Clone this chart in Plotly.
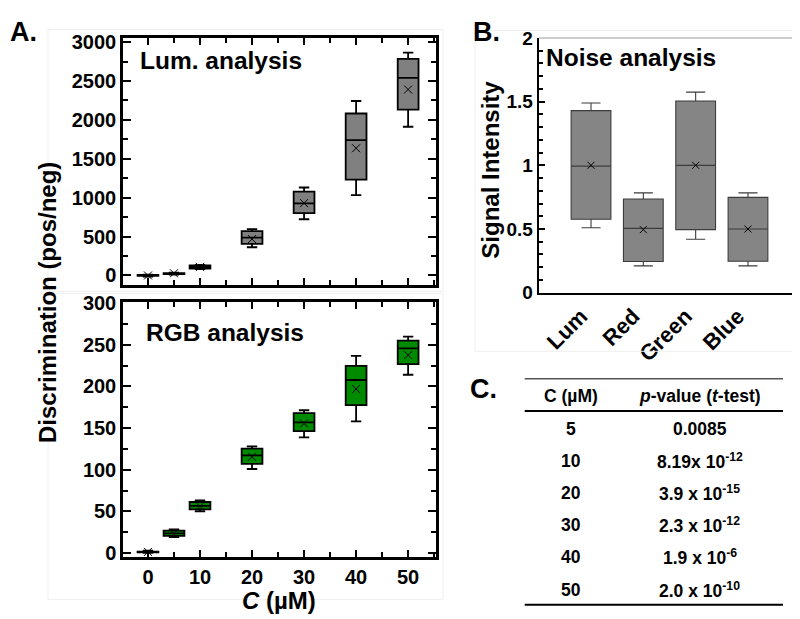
import plotly.graph_objects as go

# ---------------- data ----------------
conc = [0, 5, 10, 20, 30, 40, 50]

lum_low = [-15, 12, 82, 363, 723, 1033, 1912]
lum_q1 = [-6, 18, 88, 405, 802, 1231, 2131]
lum_med = [3, 25, 108, 487, 926, 1739, 2540]
lum_q3 = [6, 30, 128, 570, 1078, 2082, 2784]
lum_high = [12, 36, 135, 595, 1131, 2243, 2866]
lum_mean = [0, 28, 110, 468, 930, 1636, 2391]

rgb_low = [0.5, 19.3, 50.2, 101, 139, 158, 214]
rgb_q1 = [1.0, 20.8, 52.5, 107, 146.3, 177.6, 226.7]
rgb_med = [1.5, 23.7, 56.8, 117.4, 157, 207.7, 245.6]
rgb_q3 = [2.0, 27.0, 61.4, 125.5, 168, 224.7, 254.8]
rgb_high = [3.0, 28.6, 63.3, 128.2, 171.4, 236.6, 259.8]
rgb_mean = [1.5, 23.5, 56.0, 115.5, 155.6, 196.9, 237.5]

channels = ["Lum", "Red", "Green", "Blue"]
noise_low = [0.51, 0.21, 0.42, 0.21]
noise_q1 = [0.577, 0.245, 0.495, 0.247]
noise_med = [0.994, 0.505, 1.0, 0.5]
noise_q3 = [1.43, 0.736, 1.505, 0.748]
noise_high = [1.49, 0.784, 1.575, 0.784]
noise_mean = [1.0, 0.495, 1.0, 0.5]

conc_ticks = [0, 10, 20, 30, 40, 50]
lum_ticks = [0, 500, 1000, 1500, 2000, 2500, 3000]
rgb_ticks = [0, 50, 100, 150, 200, 250, 300]
noise_ticks = [0, 0.5, 1, 1.5, 2]
noise_tick_labels = ["0", "0.5", "1", "1.5", "2"]

table_conc = ["5", "10", "20", "30", "40", "50"]
table_pvalue = ["0.0085", "8.19x 10<sup>-12</sup>", "3.9 x 10<sup>-15</sup>",
                "2.3 x 10<sup>-12</sup>", "1.9 x 10<sup>-6</sup>", "2.0 x 10<sup>-10</sup>"]

# ---------------- layout helpers ----------------
W, H = 800, 619
FONT = "Liberation Sans"


def px(x):
    return x / W


def py(y):
    return 1 - y / H


def bold(vals):
    return ["<b>%s</b>" % v for v in vals]


fig = go.Figure()

# Panel A top (luminance)
fig.add_trace(go.Box(x=conc, q1=lum_q1, median=lum_med, q3=lum_q3,
                     lowerfence=lum_low, upperfence=lum_high, width=4, whiskerwidth=0.5,
                     fillcolor="#808080", line=dict(color="black", width=1.8),
                     boxpoints=False, xaxis="x", yaxis="y", hoverinfo="skip"))
fig.add_trace(go.Scatter(x=conc, y=lum_mean, mode="markers", xaxis="x", yaxis="y",
                         marker=dict(symbol="x-thin", size=8, line=dict(color="black", width=1))))

# Panel A bottom (RGB)
fig.add_trace(go.Box(x=conc, q1=rgb_q1, median=rgb_med, q3=rgb_q3,
                     lowerfence=rgb_low, upperfence=rgb_high, width=4, whiskerwidth=0.5,
                     fillcolor="#008a00", line=dict(color="black", width=1.8),
                     boxpoints=False, xaxis="x2", yaxis="y2", hoverinfo="skip"))
fig.add_trace(go.Scatter(x=conc, y=rgb_mean, mode="markers", xaxis="x2", yaxis="y2",
                         marker=dict(symbol="x-thin", size=8, line=dict(color="black", width=1))))

# Panel B (noise)
fig.add_trace(go.Box(x=channels, q1=noise_q1, median=noise_med, q3=noise_q3,
                     lowerfence=noise_low, upperfence=noise_high, width=0.76, whiskerwidth=0.48,
                     fillcolor="#858585", line=dict(color="#3c3c3c", width=1.1),
                     boxpoints=False, xaxis="x3", yaxis="y3", hoverinfo="skip"))
fig.add_trace(go.Scatter(x=channels, y=noise_mean, mode="markers", xaxis="x3", yaxis="y3",
                         marker=dict(symbol="x-thin", size=7, line=dict(color="black", width=1))))

tickfont_a = dict(family=FONT, size=20, color="black")

common_a = dict(showline=True, linecolor="black", linewidth=2.5, mirror="ticks",
                ticks="inside", tickwidth=2, tickcolor="black", showgrid=False, zeroline=False)

xdom_a = [px(115), px(427.7)]

fig.update_layout(
    width=W, height=H, margin=dict(l=0, r=0, t=0, b=0),
    paper_bgcolor="white", plot_bgcolor="white", showlegend=False,
    xaxis=dict(domain=xdom_a, anchor="y", range=[-4.8, 55.3], tickmode="array",
               tickvals=conc_ticks, ticklen=7,
               minor=dict(dtick=5, tick0=0, ticks="inside", ticklen=5, tickwidth=2, tickcolor="black"),
               showticklabels=False, **common_a),
    yaxis=dict(domain=[py(276), py(20.7)], anchor="x", range=[-118, 3053], tickmode="array",
               tickvals=lum_ticks, ticktext=bold(lum_ticks), ticklen=8,
               minor=dict(dtick=250, tick0=0, ticks="inside", ticklen=5, tickwidth=2, tickcolor="black"),
               tickfont=tickfont_a, **common_a),
    xaxis2=dict(domain=xdom_a, anchor="y2", range=[-4.8, 55.3], tickmode="array",
                tickvals=conc_ticks, ticktext=bold(conc_ticks), ticklen=7,
                minor=dict(dtick=5, tick0=0, ticks="inside", ticklen=5, tickwidth=2, tickcolor="black"),
                tickfont=tickfont_a, **common_a),
    yaxis2=dict(domain=[py(557.7), py(294)], anchor="x2", range=[-4.3, 301.2], tickmode="array",
                tickvals=rgb_ticks, ticktext=bold(rgb_ticks), ticklen=8,
                minor=dict(dtick=25, tick0=0, ticks="inside", ticklen=5, tickwidth=2, tickcolor="black"),
                tickfont=tickfont_a, **common_a),
    xaxis3=dict(domain=[px(530.7), px(792.3)], anchor="y3", type="category", range=[-1, 4],
                tickmode="array", tickvals=channels, ticktext=bold(channels),
                showline=True, linecolor="black", linewidth=2, mirror=False, ticks="",
                tickangle=-45, ticklabelshift=-10,
                tickfont=dict(family=FONT, size=22, color="black"),
                showgrid=False, zeroline=False),
    yaxis3=dict(domain=[py(284.3), py(20.7)], anchor="x3", range=[0, 2], tickmode="array",
                tickvals=noise_ticks, ticktext=bold(noise_tick_labels),
                showline=True, linecolor="black", linewidth=2, mirror="ticks", ticks="inside",
                ticklen=6, tickwidth=2, tickcolor="black",
                minor=dict(dtick=0.1, tick0=0, ticks="inside", ticklen=4, tickwidth=2, tickcolor="black"),
                tickfont=dict(family=FONT, size=19, color="black"),
                showgrid=False, zeroline=False),
)

shapes = []
# faint panel frames
for (x0, y0, x1, y1) in [(40, 12, 435, 283), (40, 285, 435, 602), (467, 13, 799, 345)]:
    shapes.append(dict(type="rect", xref="paper", yref="paper", x0=px(x0), x1=px(x1),
                       y0=py(y1), y1=py(y0), line=dict(color="#efefef", width=1)))
# top border of panel B (grey)
shapes.append(dict(type="line", xref="paper", yref="paper", x0=px(530.7), x1=px(792.3),
                   y0=py(20.7), y1=py(20.7), line=dict(color="#9a9a9a", width=1.2)))

# table rules
tx0, tx1 = 516.7, 775
for yy, col, wd in [(373.3, "#555555", 1.5), (406.7, "black", 2), (607.3, "black", 2)]:
    shapes.append(dict(type="line", xref="paper", yref="paper", x0=px(tx0), x1=px(tx1),
                       y0=py(yy), y1=py(yy), line=dict(color=col, width=wd)))
fig.update_layout(shapes=shapes)

ann = []


def text(x, y, s, size, xanchor="center", angle=0):
    ann.append(dict(x=px(x), y=py(y), xref="paper", yref="paper", text=s, showarrow=False,
                    xanchor=xanchor, yanchor="middle", textangle=angle,
                    font=dict(family=FONT, size=size, color="black")))


text(0, 14, "<b>A.</b>", 27, "left")
text(463, 14, "<b>B.</b>", 27, "left")
text(460, 384, "<b>C.</b>", 27, "left")

text(130, 44, "<b>Lum. analysis</b>", 24.5, "left")
text(136, 326, "<b>RGB analysis</b>", 24.5, "left")
text(536, 41, "<b>Noise analysis</b>", 24.5, "left")

text(40, 295, "<b>Discrimination (pos/neg)</b>", 24, angle=-90)
text(483, 157, "<b>Signal Intensity</b>", 24, angle=-90)
text(271, 603, "<b><i>C</i> (µM)</b>", 24)

# table text
c1, c2 = 562.7, 691.7
text(c1, 391.7, "<b>C (µM)</b>", 17.5)
text(c2, 391.7, "<b><i>p</i>-value (<i>t</i>-test)</b>", 17.5)
row_y0, row_dy = 425.0, 33.33
for i, (c, p) in enumerate(zip(table_conc, table_pvalue)):
    text(c1, row_y0 + i * row_dy, "<b>" + c + "</b>", 17.5)
    text(c2, row_y0 + i * row_dy, "<b>" + p + "</b>", 17.5)

fig.update_layout(annotations=ann)

fig.write_html("out.html")
